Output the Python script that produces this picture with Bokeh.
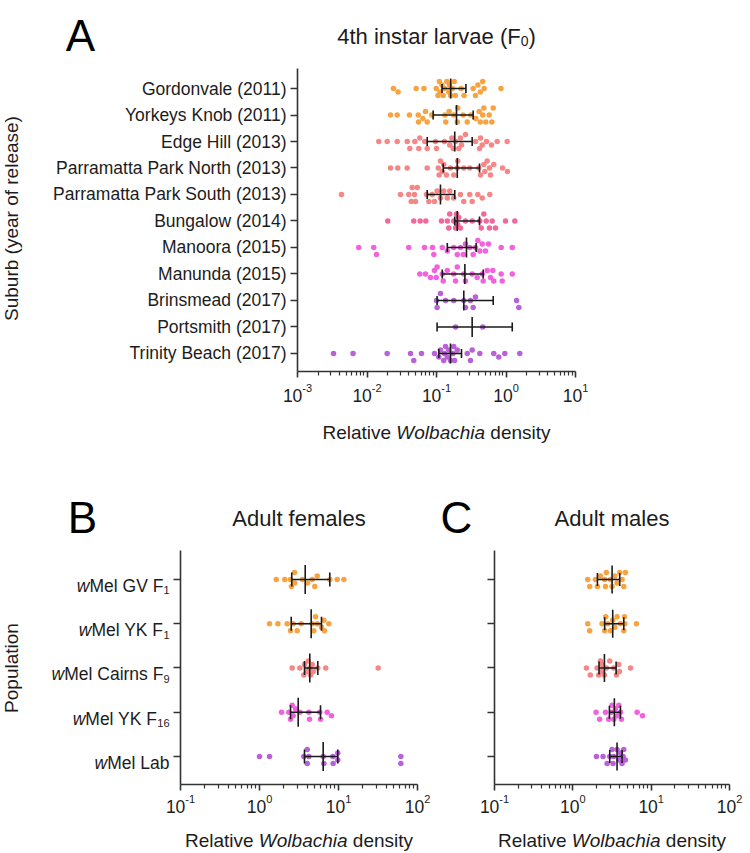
import numpy as np
from bokeh.plotting import figure
from bokeh.models import Range1d, FixedTicker, Label, ColumnDataSource, CustomJSTickFormatter
from bokeh.layouts import column, row
from bokeh.embed import file_html
from bokeh.resources import INLINE

# ---------------- data ----------------
suburbs = ["Gordonvale (2011)", "Yorkeys Knob (2011)", "Edge Hill (2013)",
           "Parramatta Park North (2013)", "Parramatta Park South (2013)",
           "Bungalow (2014)", "Manoora (2015)", "Manunda (2015)",
           "Brinsmead (2017)", "Portsmith (2017)", "Trinity Beach (2017)"]

gordonvale = [0.024, 0.028, 0.051, 0.066, 0.099, 0.105, 0.11, 0.112, 0.12, 0.125, 0.13, 0.141, 0.15, 0.154,
              0.16, 0.17, 0.18, 0.187, 0.226, 0.249, 0.337, 0.364, 0.394, 0.427, 0.462, 0.485, 0.847]
yorkeys = [0.0218, 0.0272, 0.0409, 0.0546, 0.0551, 0.0636, 0.0695, 0.0735, 0.0855, 0.132, 0.136, 0.152, 0.177,
           0.199, 0.202, 0.242, 0.277, 0.312, 0.367, 0.411, 0.427, 0.463, 0.48, 0.512, 0.573, 0.625, 0.655]
edge_hill = [0.0148, 0.0195, 0.0272, 0.0379, 0.0413, 0.0488, 0.0556, 0.0575, 0.0679, 0.0735, 0.0968, 0.1, 0.13,
             0.155, 0.166, 0.174, 0.188, 0.209, 0.221, 0.229, 0.261, 0.364, 0.416, 0.43, 0.455, 0.524, 0.618,
             0.747, 1.04]
pp_north = [0.0218, 0.0277, 0.0379, 0.0735, 0.106, 0.109, 0.114, 0.121, 0.127, 0.139, 0.159, 0.177, 0.199, 0.202,
            0.247, 0.301, 0.406, 0.43, 0.48, 0.496, 0.536, 0.579, 0.598, 0.667, 0.891, 1.05]
pp_south = [0.0043, 0.0303, 0.0399, 0.0433, 0.0447, 0.0482, 0.0499, 0.0528, 0.0718, 0.0775, 0.0867, 0.0935, 0.102,
            0.114, 0.127, 0.143, 0.155, 0.177, 0.221, 0.247, 0.301, 0.326, 0.393, 0.455, 0.585]
bungalow = [0.0199, 0.0471, 0.0582, 0.0702, 0.118, 0.143, 0.15, 0.155, 0.177, 0.188, 0.194, 0.202, 0.209, 0.221,
            0.261, 0.326, 0.42, 0.44, 0.48, 0.519, 0.579, 0.633, 0.706, 0.984, 1.34]
manoora = [0.0076, 0.0125, 0.0137, 0.0399, 0.0671, 0.0876, 0.0915, 0.121, 0.143, 0.177, 0.199, 0.221, 0.242,
           0.261, 0.301, 0.337, 0.364, 0.393, 0.42, 0.455, 0.507, 0.56, 0.853, 1.23]
manunda = [0.0575, 0.0695, 0.082, 0.0935, 0.099, 0.102, 0.121, 0.125, 0.143, 0.177, 0.188, 0.199, 0.247, 0.261,
           0.326, 0.385, 0.455, 0.47, 0.536, 0.598, 0.646, 0.667, 0.853, 0.881, 1.23]
brinsmead = [0.1, 0.102, 0.114, 0.135, 0.177, 0.247, 0.261, 0.308, 0.337, 0.364, 1.42, 1.53]
portsmith = [0.188, 0.463]
trinity = [0.0033, 0.0063, 0.0195, 0.0423, 0.0471, 0.0608, 0.0935, 0.108, 0.114, 0.127, 0.13, 0.135, 0.143, 0.15,
           0.159, 0.172, 0.177, 0.182, 0.199, 0.277, 0.308, 0.326, 0.42, 0.667, 0.787, 0.962, 1.58]
larvae = [gordonvale, yorkeys, edge_hill, pp_north, pp_south, bungalow, manoora, manunda, brinsmead, portsmith, trinity]
larvae_median = [0.16, 0.194, 0.183, 0.199, 0.114, 0.199, 0.27, 0.256, 0.247, 0.326, 0.159]
larvae_q1 = [0.12, 0.0895, 0.0735, 0.125, 0.0735, 0.183, 0.143, 0.121, 0.102, 0.102, 0.108]
larvae_q3 = [0.265, 0.337, 0.326, 0.416, 0.183, 0.416, 0.372, 0.47, 0.655, 1.23, 0.229]

pop_prefix = ["w", "w", "w", "w", "w"]
pop_names = ["Mel GV F", "Mel YK F", "Mel Cairns F", "Mel YK F", "Mel Lab"]
pop_subs = ["1", "1", "9", "16", ""]

fem_gv = [1.63, 2.09, 2.47, 2.54, 2.77, 2.79, 3.5, 4.05, 4.65, 5.01, 5.38, 7.76, 9.63, 11.7]
fem_yk = [1.34, 1.71, 2.24, 2.47, 2.67, 3.0, 3.37, 4.65, 4.87, 5.12, 5.38, 6.09, 6.52, 6.65, 7.54]
fem_cairns = [2.59, 3.24, 3.64, 3.71, 4.02, 4.14, 4.33, 4.42, 4.65, 4.79, 5.47, 6.9, 31.8]
fem_yk16 = [1.9, 2.35, 2.47, 2.59, 2.67, 2.86, 3.24, 4.21, 4.3, 5.8, 5.92, 7.19, 8.15]
fem_lab = [1.0, 1.34, 3.64, 4.02, 4.02, 4.21, 6.4, 6.52, 8.47, 8.55, 9.8, 9.8, 61.5, 61.5]
females = [fem_gv, fem_yk, fem_cairns, fem_yk16, fem_lab]
fem_median = [3.79, 4.51, 4.33, 3.09, 6.4]
fem_q1 = [2.56, 2.52, 3.71, 2.47, 3.71]
fem_q3 = [7.76, 6.09, 5.47, 5.92, 9.8]

mal_gv = [1.55, 1.64, 1.94, 2.06, 2.25, 2.55, 2.61, 2.68, 3.02, 3.17, 3.43, 3.67, 3.97, 4.25, 4.47, 4.69]
mal_yk = [1.55, 1.64, 2.36, 2.55, 2.63, 2.79, 3.02, 3.23, 3.43, 3.67, 4.05, 4.47, 4.56, 4.61, 6.49]
mal_cairns = [1.49, 1.67, 2.04, 2.14, 2.25, 2.32, 2.36, 2.53, 2.68, 2.96, 3.33, 3.6, 3.86, 3.94, 5.44]
mal_yk16 = [1.98, 2.2, 2.61, 2.87, 3.11, 3.17, 3.33, 3.5, 3.67, 3.86, 4.05, 4.17, 6.62, 7.75]
mal_lab = [2.0, 2.43, 2.74, 2.96, 3.17, 3.26, 3.33, 3.67, 3.86, 4.05, 4.25, 4.38, 4.47, 4.69]
males = [mal_gv, mal_yk, mal_cairns, mal_yk16, mal_lab]
mal_median = [3.17, 3.23, 2.53, 3.39, 3.67]
mal_q1 = [2.06, 2.55, 2.16, 2.93, 2.96]
mal_q3 = [3.97, 4.47, 3.57, 4.05, 4.25]

exps_a = [-3, -2, -1, 0, 1]
exps_bc = [-1, 0, 1, 2]

# ---------------- styles ----------------
FONT = "Liberation Sans"
TXT = "#1c1c1c"
AX = "#333333"
ORANGE = "#F89E38"
SALMON = "#F48181"
PINK = "#EF6097"
MAGENTA = "#F05ADA"
PURPLE = "#B459D6"
larvae_colors = [ORANGE, ORANGE, SALMON, SALMON, SALMON, PINK, MAGENTA, MAGENTA, PURPLE, PURPLE, PURPLE]
pop_colors = [ORANGE, ORANGE, SALMON, MAGENTA, PURPLE]
DOT = 5.5

ARIAL = {' ': 278, '(': 333, ')': 333, '-': 333, 'A': 667, 'B': 667, 'C': 722, 'F': 611, 'G': 778,
         'K': 667, 'L': 556, 'M': 833, 'N': 722, 'P': 667, 'R': 722, 'S': 667, 'T': 611, 'V': 667,
         'W': 944, 'Y': 667, 'E': 667, 'H': 722, 'a': 556, 'b': 556, 'c': 500, 'd': 556, 'e': 556,
         'f': 278, 'g': 556, 'h': 556, 'i': 222, 'k': 500, 'l': 222, 'm': 833, 'n': 556, 'o': 556,
         'p': 556, 'r': 333, 's': 500, 't': 278, 'u': 556, 'v': 500, 'w': 722, 'y': 500}


def text_w(s, size):
    return sum(ARIAL.get(ch, 556) for ch in s) * size / 1000.0


def rich(p, x, y, segs, align="center", ox=0.0, oy_center=0.0, main=17.5):
    """segs: (text, size, style, dy).  oy_center: offset (px, up) of the cap-height middle."""
    widths = [text_w(t, s) for t, s, st, dy in segs]
    total = sum(widths)
    cur = ox - {"left": 0.0, "center": total / 2.0, "right": total}[align]
    base = oy_center - 0.358 * main
    for (t, s, st, dy), w in zip(segs, widths):
        shown = t.strip()
        if shown:
            lead = text_w(t[:len(t) - len(t.lstrip())], s)
            p.add_layout(Label(x=x, y=y, x_offset=cur + lead, y_offset=base + dy, text=shown, text_font=FONT,
                               text_font_size=f"{s}px", text_font_style=st, text_align="left",
                               text_baseline="alphabetic", text_color=TXT))
        cur += w


def swarm(vals, ppd, step=3.5, maxk=2, diam=DOT):
    px = [np.log10(v) * ppd for v in vals]
    cands = [0]
    for k in range(1, maxk + 1):
        cands += [-k, k]
    placed, offs = [], [0.0] * len(vals)
    for i in np.argsort(px):
        best, bestd = 0.0, -1.0
        for c in cands:
            oy = c * step
            d = min([np.hypot(px[i] - qx, oy - qy) for qx, qy in placed], default=1e9)
            if d >= diam:
                best = oy
                break
            if d > bestd:
                bestd, best = d, oy
        offs[i] = best
        placed.append((px[i], best))
    return offs


def make_fig(W, H, box, xr, yr, exps, n):
    """box = (left, top, right, bottom) of the plotting area in canvas px; the frame fills the canvas
    and the axes are fixed at the edges of that area."""
    l, t, r, b = box
    ppd = (r - l) / (np.log10(xr[1]) - np.log10(xr[0]))
    ppu = (b - t) / (yr[1] - yr[0])
    x0 = 10 ** (np.log10(xr[0]) - l / ppd)
    x1 = 10 ** (np.log10(xr[1]) + (W - r) / ppd)
    y0 = yr[0] - (H - b) / ppu
    y1 = yr[1] + t / ppu
    p = figure(width=W, height=H, x_axis_type="log", x_range=Range1d(x0, x1), y_range=Range1d(y0, y1),
               output_backend="svg", toolbar_location=None, title=None, min_border=0)
    p.outline_line_color = None
    p.xgrid.visible = False
    p.ygrid.visible = False
    p.background_fill_color = "white"
    p.border_fill_color = "white"
    for ax in (p.xaxis[0], p.yaxis[0]):
        ax.axis_line_color = AX
        ax.axis_line_width = 1.6
        ax.major_tick_line_color = AX
        ax.major_tick_line_width = 1.6
        ax.minor_tick_line_color = AX
        ax.minor_tick_line_width = 1.2
        ax.major_tick_in = 0
        ax.minor_tick_in = 0
    xa = p.xaxis[0]
    xa.fixed_location = yr[0]
    xa.bounds = (xr[0], xr[1])
    xa.ticker = FixedTicker(ticks=[10.0 ** e for e in exps],
                            minor_ticks=[k * 10.0 ** e for e in exps[:-1] for k in range(2, 10)])
    xa.major_tick_out = 6
    xa.minor_tick_out = 4
    xa.formatter = CustomJSTickFormatter(code="return '';")
    ya = p.yaxis[0]
    ya.fixed_location = xr[0]
    ya.bounds = (yr[0], yr[1])
    ya.ticker = FixedTicker(ticks=list(range(n)), minor_ticks=[])
    ya.major_tick_out = 7
    ya.minor_tick_out = 0
    ya.major_label_text_font = FONT
    ya.major_label_text_font_size = "17.5px"
    ya.major_label_text_color = TXT
    ya.major_label_standoff = 4
    return p, ppd, ppu


def draw_data(p, groups, med, q1, q3, colors, ppd, ppu, med_half, cap_half):
    n = len(groups)
    xs, ys, cs = [], [], []
    for i, vals in enumerate(groups):
        yrow = n - 1 - i
        offs = swarm(vals, ppd)
        for v, o in zip(vals, offs):
            xs.append(v)
            ys.append(yrow + o / ppu)
            cs.append(colors[i])
    p.scatter("x", "y", source=ColumnDataSource(dict(x=xs, y=ys, c=cs)), size=DOT,
              fill_color="c", line_color=None, fill_alpha=0.95)
    yr = np.array([n - 1 - i for i in range(n)], dtype=float)
    mh, chh = med_half / ppu, cap_half / ppu
    kw = dict(line_color="#1a1a1a", line_width=1.6)
    p.segment(x0=q1, x1=q3, y0=yr, y1=yr, **kw)
    p.segment(x0=q1, x1=q1, y0=yr - chh, y1=yr + chh, **kw)
    p.segment(x0=q3, x1=q3, y0=yr - chh, y1=yr + chh, **kw)
    p.segment(x0=med, x1=med, y0=yr - mh, y1=yr + mh, **kw)


def x_ticklabels(p, exps, y0, below):
    for e in exps:
        rich(p, 10.0 ** e, y0, [("10", 17.5, "normal", 0.0), (str(e), 11, "normal", 7.5)],
             align="center", oy_center=-below, main=17.5)


def density_label(p, xr, y0, below, fw):
    rich(p, xr[0], y0, [("Relative ", 19, "normal", 0.0), ("Wolbachia", 19, "italic", 0.0),
                        (" density", 19, "normal", 0.0)],
         align="center", ox=fw / 2.0, oy_center=-below, main=19)


def big_letter(p, x, y, letter, ox, oy):
    p.add_layout(Label(x=x, y=y, x_offset=ox, y_offset=oy - 0.358 * 44, text=letter, text_font=FONT,
                       text_font_size="44px", text_align="center", text_baseline="alphabetic",
                       text_color="#000000"))


# ---------------- panel A (page rows 0..463) ----------------
A_W, A_H = 750, 463
A_BOX = (297, 68, 575, 371)
A_FW = A_BOX[2] - A_BOX[0]
a_xr = (1e-3, 1e1)
a_yr = (-0.68, 10.755)
nA = len(suburbs)
pA, a_ppd, a_ppu = make_fig(A_W, A_H, A_BOX, a_xr, a_yr, exps_a, nA)
pA.yaxis[0].major_label_overrides = {nA - 1 - i: s for i, s in enumerate(suburbs)}
draw_data(pA, larvae, larvae_median, larvae_q1, larvae_q3, larvae_colors, a_ppd, a_ppu, 10.0, 4.5)
x_ticklabels(pA, exps_a, a_yr[0], 18)
density_label(pA, a_xr, a_yr[0], 54, A_FW)
rich(pA, a_xr[0], a_yr[1], [("4th instar larvae (F", 22, "normal", 0.0), ("0", 14, "normal", -5.0),
                            (")", 22, "normal", 0.0)], align="center", ox=A_FW / 2.0, oy_center=40, main=22)
big_letter(pA, a_xr[0], a_yr[1], "A", -217, 49)
pA.add_layout(Label(x=a_xr[0], y=a_yr[1], x_offset=-286, y_offset=-150, text="Suburb (year of release)",
                    text_font=FONT, text_font_size="19px", text_align="center", text_baseline="middle",
                    angle=np.pi / 2, text_color=TXT))

# ---------------- panels B and C (page rows 463..853) ----------------
BC_H = 390
B_W, C_W = 430, 320
B_BOX = (180, 87, 417, 321)
C_BOX = (64, 87, 299, 321)
bc_xr = (1e-1, 1e2)
bc_yr = (-0.633, 4.655)
nB = len(pop_names)

pB, b_ppd, bc_ppu = make_fig(B_W, BC_H, B_BOX, bc_xr, bc_yr, exps_bc, nB)
pC, c_ppd, _ = make_fig(C_W, BC_H, C_BOX, bc_xr, bc_yr, exps_bc, nB)
for p in (pB, pC):
    p.yaxis[0].formatter = CustomJSTickFormatter(code="return '';")

B_FW = B_BOX[2] - B_BOX[0]
C_FW = C_BOX[2] - C_BOX[0]
draw_data(pB, females, fem_median, fem_q1, fem_q3, pop_colors, b_ppd, bc_ppu, 14.5, 7.0)
draw_data(pC, males, mal_median, mal_q1, mal_q3, pop_colors, c_ppd, bc_ppu, 14.0, 6.5)

for p, fw, title, letter, lx in ((pB, B_FW, "Adult females", "B", -98), (pC, C_FW, "Adult males", "C", -38)):
    x_ticklabels(p, exps_bc, bc_yr[0], 16)
    density_label(p, bc_xr, bc_yr[0], 49, fw)
    rich(p, bc_xr[0], bc_yr[1], [(title, 22, "normal", 0.0)], align="center", ox=fw / 2.0,
         oy_center=40, main=22)
    big_letter(p, bc_xr[0], bc_yr[1], letter, lx, 49)

for i in range(nB):
    rich(pB, bc_xr[0], nB - 1 - i, [(pop_prefix[i], 17.5, "italic", 0.0), (pop_names[i], 17.5, "normal", 0.0),
                                    (pop_subs[i], 11, "normal", -4.5)], align="right", ox=-11, oy_center=0,
         main=17.5)
pB.add_layout(Label(x=bc_xr[0], y=(nB - 1) / 2.0, x_offset=-169, y_offset=0, text="Population",
                    text_font=FONT, text_font_size="19px", text_align="center", text_baseline="middle",
                    angle=np.pi / 2, text_color=TXT))

layout = column(pA, row(pB, pC))
open("out.html", "w").write(file_html(layout, INLINE, title="Wolbachia density"))
